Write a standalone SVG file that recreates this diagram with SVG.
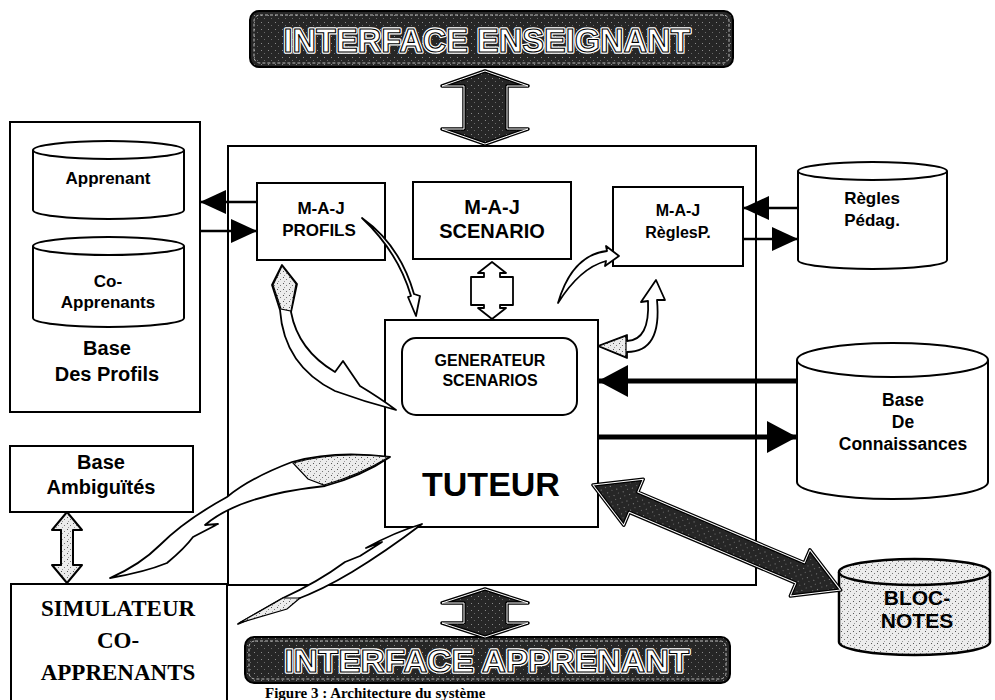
<svg xmlns="http://www.w3.org/2000/svg" width="995" height="700" viewBox="0 0 995 700">
<style>
.box{fill:#fff;stroke:#000;stroke-width:2}
.nf{fill:none;stroke:#000;stroke-width:2}
.t{font-family:"Liberation Sans",Arial,sans-serif;font-weight:bold;text-anchor:middle;fill:#000}
.s{font-family:"Liberation Serif","Times New Roman",serif;font-weight:bold;text-anchor:middle;fill:#000}
.banw{font-family:"Liberation Sans",Arial,sans-serif;font-weight:bold;text-anchor:middle;fill:#fff;stroke:#fff;stroke-width:3.5;stroke-linejoin:round}
.ban{font-family:"Liberation Sans",Arial,sans-serif;font-weight:bold;text-anchor:middle;fill:#fff;stroke:#000;stroke-width:1.1}
.ln{stroke:#000;stroke-width:2.5;fill:none}
.lnb{stroke:#000;stroke-width:5;fill:none}
.cv{fill:#fff;stroke:#000;stroke-width:1.8;stroke-linejoin:round}
.hd{fill:url(#stip);stroke:#000;stroke-width:1.2}
.dk{fill:url(#dark);stroke:#000;stroke-width:3.5;stroke-linejoin:round}
.dkw{fill:none;stroke:#fff;stroke-width:1;stroke-linejoin:round}
</style>
<defs>
<pattern id="stip" width="6" height="6" patternUnits="userSpaceOnUse">
<rect width="6" height="6" fill="#ececec"/>
<rect x="1" y="1" width="1" height="1" fill="#555"/>
<rect x="4" y="3" width="1" height="1" fill="#777"/>
<rect x="2" y="5" width="1" height="1" fill="#999"/>
</pattern>
<pattern id="dark" width="7" height="7" patternUnits="userSpaceOnUse">
<rect width="7" height="7" fill="#262626"/>
<rect x="2" y="1" width="1" height="1" fill="#8a8a8a"/>
<rect x="5" y="4" width="1" height="1" fill="#6a6a6a"/>
</pattern>
<marker id="ah" markerUnits="userSpaceOnUse" viewBox="0 0 26 24" markerWidth="26" markerHeight="24" refX="26" refY="12" orient="auto"><path d="M0,0 L26,12 L0,24 Z" fill="#000"/></marker>
<marker id="ahB" markerUnits="userSpaceOnUse" viewBox="0 0 30 32" markerWidth="30" markerHeight="32" refX="30" refY="16" orient="auto"><path d="M0,0 L30,16 L0,32 Z" fill="#000"/></marker>
</defs>

<rect width="995" height="700" fill="#fff"/>

<g id="interface-enseignant">
<rect x="250" y="11" width="483" height="56" rx="9" fill="url(#dark)" stroke="#000" stroke-width="2"/>
<rect x="254" y="15" width="475" height="48" rx="6" fill="none" stroke="#bbb" stroke-width="1" stroke-dasharray="3 2"/>
<text class="banw" x="487" y="52" font-size="33" textLength="407" lengthAdjust="spacingAndGlyphs">INTERFACE ENSEIGNANT</text>
<text class="ban" x="487" y="52" font-size="33" textLength="407" lengthAdjust="spacingAndGlyphs">INTERFACE ENSEIGNANT</text>
</g>

<g id="base-profils">
<rect class="box" x="10" y="122" width="190" height="290"/>
<path class="box" d="M33,150 V210 A75.5,9 0 0 0 184,210 V150"/>
<ellipse class="box" cx="108.5" cy="150" rx="75.5" ry="9"/>
<text class="t" x="108" y="184" font-size="17">Apprenant</text>
<path class="box" d="M33,246 V318 A75.5,9 0 0 0 184,318 V246"/>
<ellipse class="box" cx="108.5" cy="246" rx="75.5" ry="9"/>
<text class="t" x="108" y="287" font-size="17">Co-</text>
<text class="t" x="108" y="308" font-size="17">Apprenants</text>
<text class="t" x="107" y="355" font-size="20">Base</text>
<text class="t" x="107" y="381" font-size="20">Des Profils</text>
</g>

<g id="systeme">
<rect class="nf" x="228" y="146" width="528" height="439"/>
</g>

<g id="maj-profils">
<rect class="box" x="257" y="183" width="128" height="77"/>
<text class="t" x="321" y="214" font-size="17">M-A-J</text>
<text class="t" x="319" y="236" font-size="17">PROFILS</text>
</g>

<g id="maj-scenario">
<rect class="box" x="413" y="182" width="158" height="77"/>
<text class="t" x="492" y="214" font-size="20">M-A-J</text>
<text class="t" x="492" y="238" font-size="20">SCENARIO</text>
</g>

<g id="maj-regles">
<rect class="box" x="613" y="187" width="130" height="79"/>
<text class="t" x="678" y="216" font-size="16">M-A-J</text>
<text class="t" x="678" y="238" font-size="16">RèglesP.</text>
</g>

<g id="regles-pedag">
<path class="box" d="M798,171 V260 A74.5,9 0 0 0 947,260 V171"/>
<ellipse class="box" cx="872.5" cy="171" rx="74.5" ry="9"/>
<text class="t" x="872" y="204" font-size="17">Règles</text>
<text class="t" x="872" y="226" font-size="17">Pédag.</text>
</g>

<g id="tuteur">
<rect class="box" x="385" y="320" width="213" height="207"/>
<rect class="box" x="402" y="338" width="175" height="77" rx="14"/>
<text class="t" x="490" y="366" font-size="16">GENERATEUR</text>
<text class="t" x="490" y="386" font-size="16">SCENARIOS</text>
<text class="t" x="491" y="496" font-size="34">TUTEUR</text>
</g>

<g id="base-connaissances">
<path class="box" d="M797,360 V482 A95.5,17 0 0 0 988,482 V360"/>
<ellipse class="box" cx="892.5" cy="360" rx="95.5" ry="17"/>
<text class="t" x="903" y="406" font-size="17.5">Base</text>
<text class="t" x="903" y="428" font-size="17.5">De</text>
<text class="t" x="903" y="450" font-size="17.5">Connaissances</text>
</g>

<g id="bloc-notes">
<path d="M839,572 V642 A75.5,13 0 0 0 990,642 V572" fill="url(#stip)" stroke="#000" stroke-width="2.5"/>
<ellipse cx="914.5" cy="572" rx="75.5" ry="13" fill="url(#stip)" stroke="#000" stroke-width="2.5"/>
<text class="t" x="917" y="605" font-size="21">BLOC-</text>
<text class="t" x="917" y="628" font-size="21">NOTES</text>
</g>

<g id="base-ambiguites">
<rect class="box" x="10" y="446" width="183" height="66"/>
<text class="t" x="101" y="469" font-size="20">Base</text>
<text class="t" x="101" y="494" font-size="20">Ambiguïtés</text>
</g>

<g id="simulateur">
<rect class="box" x="11" y="584" width="216" height="130"/>
<text class="s" x="118" y="616" font-size="23">SIMULATEUR</text>
<text class="s" x="118" y="648" font-size="23">CO-</text>
<text class="s" x="118" y="680" font-size="23">APPRENANTS</text>
</g>

<g id="interface-apprenant">
<rect x="245" y="637" width="485" height="46" rx="9" fill="url(#dark)" stroke="#000" stroke-width="2"/>
<rect x="249" y="641" width="477" height="38" rx="6" fill="none" stroke="#bbb" stroke-width="1" stroke-dasharray="3 2"/>
<text class="banw" x="487" y="672" font-size="32" textLength="405" lengthAdjust="spacingAndGlyphs">INTERFACE APPRENANT</text>
<text class="ban" x="487" y="672" font-size="32" textLength="405" lengthAdjust="spacingAndGlyphs">INTERFACE APPRENANT</text>
</g>

<g id="caption">
<text class="s" x="265" y="698" font-size="15" style="text-anchor:start">Figure 3 : Architecture du système</text>
</g>

<g id="connectors">
<line class="ln" x1="257" y1="202" x2="200" y2="202" marker-end="url(#ah)"/>
<line class="ln" x1="200" y1="231" x2="257" y2="231" marker-end="url(#ah)"/>
<line class="ln" x1="798" y1="208" x2="743" y2="208" marker-end="url(#ah)"/>
<line class="ln" x1="743" y1="239" x2="798" y2="239" marker-end="url(#ah)"/>
<line class="lnb" x1="797" y1="381" x2="598" y2="381" marker-end="url(#ahB)"/>
<line class="lnb" x1="598" y1="437" x2="797" y2="437" marker-end="url(#ahB)"/>

<path class="dk" d="M485,71 L528,86 L507,86 L507,129 L528,129 L485,144 L442,129 L464,129 L464,86 L442,86 Z"/>
<path class="dkw" d="M485,71 L528,86 L507,86 L507,129 L528,129 L485,144 L442,129 L464,129 L464,86 L442,86 Z"/>
<path class="dk" d="M485,589 L528,603 L507,603 L507,623 L528,623 L485,637 L442,623 L464,623 L464,603 L442,603 Z"/>
<path class="dkw" d="M485,589 L528,603 L507,603 L507,623 L528,623 L485,637 L442,623 L464,623 L464,603 L442,603 Z"/>

<g transform="translate(593,485) rotate(23)">
<path class="dk" d="M0,0 L44,-25 L44,-11 L225,-11 L225,-25 L269,0 L225,25 L225,11 L44,11 L44,25 Z"/>
<path class="dkw" d="M0,0 L44,-25 L44,-11 L225,-11 L225,-25 L269,0 L225,25 L225,11 L44,11 L44,25 Z"/>
</g>

<path class="cv" d="M492,262 L506,273 L500,273 L500,277 L513,277 L513,305 L500,305 L500,308 L506,308 L492,319 L478,308 L484,308 L484,305 L471,305 L471,277 L484,277 L484,273 L478,273 Z"/>

<path d="M67,512 L82,530 L73,530 L73,565 L82,565 L67,583 L52,565 L61,565 L61,530 L52,530 Z" fill="url(#stip)" stroke="#000" stroke-width="2" stroke-linejoin="round"/>

<path class="cv" d="M362,218 Q400,245 414,294 L420,296 L416,316 L408,297 L411,296 Q398,252 362,218 Z"/>

<path class="cv" d="M282,265 L297,284 L291,312 Q298,350 335,372 L343,361 L360,386 Q380,398 396,410 Q365,402 335,391 Q284,366 280,310 L272,285 Z"/>
<path class="hd" d="M282,266 L296,284 L291,311 L281,309 L273,285 Z"/>

<path class="cv" d="M619,256 L606,246 L607,251 Q572,255 558,303 Q580,268 606,261 L605,266 Z"/>

<path class="cv" d="M598,346 L627,335 L627,341 Q650,340 648,301 L641,302 L656,280 L665,300 L657,300 Q662,352 627,352 L627,358 Z"/>
<path class="hd" d="M599,346 L626,336 L626,357 Z"/>

<path class="cv" d="M390,457 Q335,450 292,462 Q250,478 227,497 Q185,520 160,545 Q140,565 110,578 Q145,572 167,563 Q185,548 193,537 L218,524 L205,525 Q240,495 325,486 Q362,476 390,457 Z"/>
<path class="hd" d="M389,457 Q335,451 293,463 L308,479 L324,485 Q360,475 389,457 Z"/>

<path class="cv" d="M422,524 Q385,552 352,572 Q322,590 295,600 L238,624 L283,598 Q318,582 345,562 L360,556 L382,542 L366,548 Q395,532 422,524 Z"/>
<path class="hd" d="M239,623 L283,598 L300,598 L287,609 Z"/>
</g>
</svg>
